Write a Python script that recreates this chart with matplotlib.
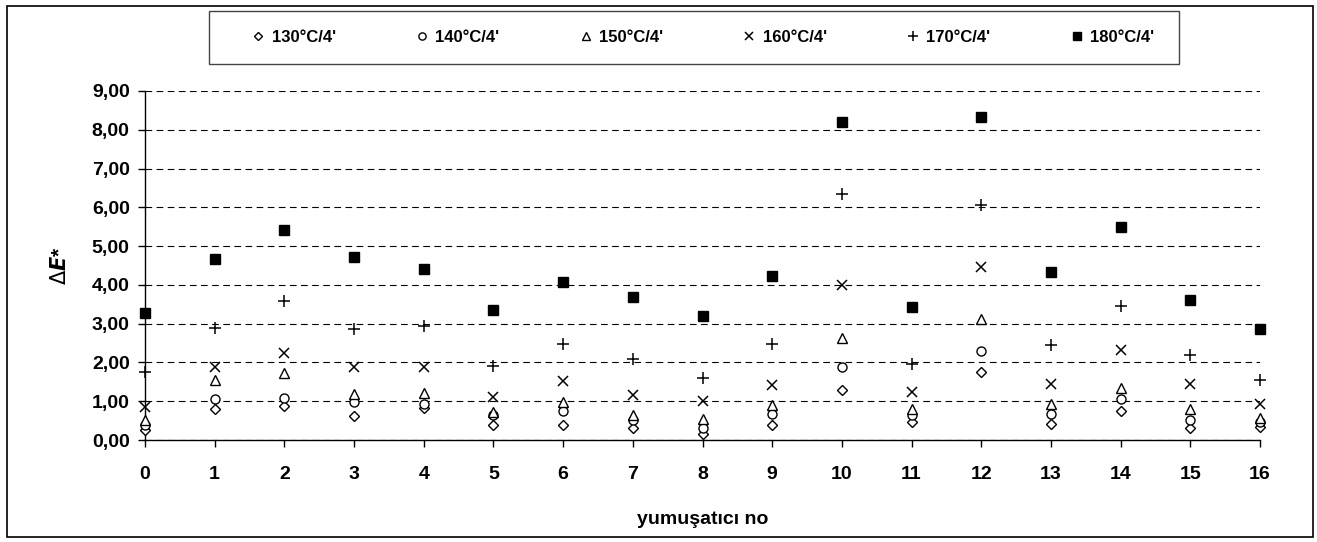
import numpy as np
import matplotlib.pyplot as plt
from matplotlib.patches import Rectangle
from matplotlib.ticker import FuncFormatter

plt.rcParams['font.family'] = ['Liberation Sans', 'DejaVu Sans']

# yumusatici no
softener = list(range(17))

de_130 = [0.26, 0.79, 0.88, 0.62, 0.82, 0.38, 0.39, 0.30, 0.15, 0.38, 1.29, 0.46, 1.75, 0.41, 0.76, 0.30, 0.34]
de_140 = [0.39, 1.06, 1.09, 0.97, 0.93, 0.65, 0.74, 0.52, 0.32, 0.67, 1.89, 0.64, 2.30, 0.67, 1.05, 0.52, 0.47]
de_150 = [0.52, 1.55, 1.74, 1.19, 1.22, 0.71, 0.99, 0.64, 0.53, 0.91, 2.64, 0.79, 3.13, 0.92, 1.33, 0.79, 0.57]
de_160 = [0.86, 1.87, 2.25, 1.87, 1.87, 1.10, 1.52, 1.15, 1.01, 1.42, 4.01, 1.25, 4.47, 1.44, 2.32, 1.44, 0.92]
de_170 = [1.76, 2.90, 3.59, 2.86, 2.95, 1.91, 2.48, 2.10, 1.61, 2.47, 6.34, 1.95, 6.07, 2.44, 3.46, 2.18, 1.56]
de_180 = [3.28, 4.68, 5.42, 4.72, 4.41, 3.35, 4.07, 3.69, 3.20, 4.23, 8.20, 3.42, 8.32, 4.34, 5.50, 3.61, 2.85]

labels = ["130°C/4'", "140°C/4'", "150°C/4'", "160°C/4'", "170°C/4'", "180°C/4'"]

W, H = 1317, 542
fig = plt.figure(figsize=(W / 100, H / 100), dpi=100)
ax = fig.add_axes([145/W, 1 - 440/H, 1115/W, 349/H])

# outer frame around the whole chart
fig.patches.append(Rectangle((7/W, 1 - 537/H), 1306/W, 531/H, transform=fig.transFigure,
                             fill=False, edgecolor='black', linewidth=1.2))
# legend frame
fig.patches.append(Rectangle((209/W, 1 - 64/H), 970/W, 53/H, transform=fig.transFigure,
                             fill=False, edgecolor='#444444', linewidth=1))

kw = dict(ls='none', clip_on=False, zorder=3)
ax.plot(softener, de_130, 'D', ms=5.5, mfc='white', mec='black', mew=1, label=labels[0], **kw)
ax.plot(softener, de_140, 'o', ms=6.5, mfc='white', mec='black', mew=1, label=labels[1], **kw)
ax.plot(softener, de_150, '^', ms=7, mfc='white', mec='black', mew=1, label=labels[2], **kw)
ax.plot(softener, de_160, 'x', ms=7.5, color='black', mew=1.1, label=labels[3], **kw)
ax.plot(softener, de_170, '+', ms=8.5, color='black', mew=1.1, label=labels[4], **kw)
ax.plot(softener, de_180, 's', ms=7, color='black', label=labels[5], **kw)

ax.set_xlim(0, 16)
ax.set_ylim(0, 9)
ax.set_xticks(range(17))
ax.set_yticks(range(10))
ax.yaxis.set_major_formatter(FuncFormatter(lambda v, p: f"{v:.2f}".replace('.', ',')))
ax.set_axisbelow(True)
ax.grid(axis='y', color='black', linestyle=(0, (6, 4)), linewidth=0.8)

for s in ['top', 'right']:
    ax.spines[s].set_visible(False)
ax.spines['left'].set_linewidth(1)
ax.spines['bottom'].set_linewidth(1)
ax.tick_params(axis='both', length=5, width=1, labelsize=14)
for t in ax.get_xticklabels() + ax.get_yticklabels():
    t.set_fontweight('bold')
ax.tick_params(axis='x', pad=14)
ax.tick_params(axis='y', pad=6)

ax.set_xlabel('yumuşatıcı no', fontsize=14, fontweight='bold', labelpad=20)
ax.set_ylabel(r'$\Delta\boldsymbol{E}$*', fontsize=15, fontweight='bold', labelpad=16)

fig.legend(loc='center', bbox_to_anchor=(250/W, 1 - 64/H, 904/W, 53/H),
           mode='expand', ncol=6, frameon=False,
           borderaxespad=0, prop={'weight': 'bold', 'size': 12}, handletextpad=0.3,
           handlelength=1.0, markerscale=0.8, borderpad=0)

fig.savefig('out.png', dpi=100)
